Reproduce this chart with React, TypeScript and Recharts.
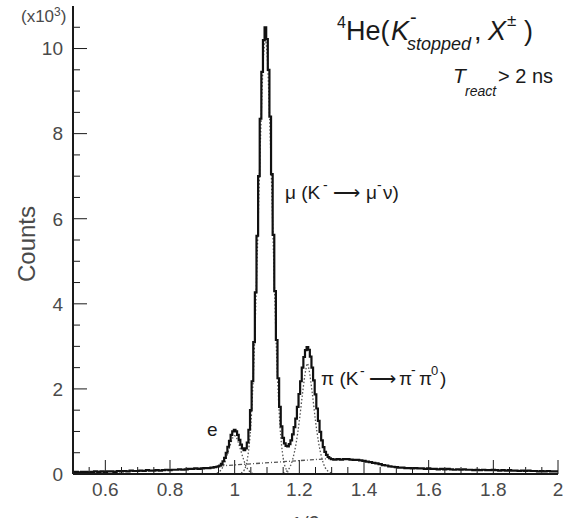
import React from 'react';
import { LineChart, Line, XAxis, YAxis } from 'recharts';

// ---- measured spectrum (counts in units of 10^3) ----
const spectrumX = [
  0.5, 0.51, 0.52, 0.53, 0.54, 0.55, 0.56, 0.57, 0.58, 0.59,
  0.6, 0.61, 0.62, 0.63, 0.64, 0.65, 0.66, 0.67, 0.68, 0.69,
  0.7, 0.71, 0.72, 0.73, 0.74, 0.75, 0.76, 0.77, 0.78, 0.79,
  0.8, 0.81, 0.82, 0.83, 0.84, 0.85, 0.86, 0.87, 0.88, 0.89,
  0.9, 0.91, 0.92, 0.93,
  0.94, 0.945, 0.95, 0.955, 0.96, 0.965, 0.97, 0.975, 0.98, 0.985, 0.99, 0.995,
  1.0, 1.005, 1.01, 1.015, 1.02, 1.025, 1.03, 1.035, 1.04, 1.045,
  1.05, 1.055, 1.06, 1.065, 1.07, 1.075, 1.08, 1.085, 1.09, 1.095,
  1.1, 1.105, 1.11, 1.115, 1.12, 1.125, 1.13, 1.135, 1.14, 1.145,
  1.15, 1.155, 1.16, 1.165, 1.17, 1.175, 1.18, 1.185, 1.19, 1.195,
  1.2, 1.205, 1.21, 1.215, 1.22, 1.225, 1.23, 1.235, 1.24, 1.245,
  1.25, 1.255, 1.26, 1.265, 1.27, 1.275, 1.28, 1.285, 1.29, 1.295,
  1.3, 1.31, 1.32, 1.33, 1.34, 1.35, 1.36, 1.37, 1.38, 1.39,
  1.4, 1.41, 1.42, 1.43, 1.44, 1.45, 1.46, 1.47, 1.48, 1.49,
  1.5, 1.51, 1.52, 1.53, 1.54, 1.55, 1.56, 1.57, 1.58, 1.59,
  1.6, 1.61, 1.62, 1.63, 1.64, 1.65, 1.66, 1.67, 1.68, 1.69,
  1.7, 1.71, 1.72, 1.73, 1.74, 1.75, 1.76, 1.77, 1.78, 1.79,
  1.8, 1.81, 1.82, 1.83, 1.84, 1.85, 1.86, 1.87, 1.88, 1.89,
  1.9, 1.91, 1.92, 1.93, 1.94, 1.95, 1.96, 1.97, 1.98, 1.99, 2.0,
];
const spectrumCounts = [
  0.04, 0.05, 0.04, 0.05, 0.05, 0.04, 0.05, 0.06, 0.05, 0.06,
  0.05, 0.06, 0.06, 0.05, 0.07, 0.06, 0.07, 0.06, 0.08, 0.07,
  0.07, 0.08, 0.07, 0.09, 0.08, 0.08, 0.09, 0.08, 0.09, 0.1,
  0.09, 0.1, 0.1, 0.11, 0.1, 0.11, 0.12, 0.12, 0.13, 0.12,
  0.13, 0.14, 0.14, 0.15,
  0.16, 0.17, 0.18, 0.2, 0.24, 0.3, 0.38, 0.5, 0.64, 0.78, 0.92, 1.0,
  1.04, 1.0, 0.92, 0.8, 0.69, 0.6, 0.56, 0.6, 0.74, 1.04,
  1.5, 2.18, 3.1, 4.27, 5.6, 7.0, 8.35, 9.45, 10.2, 10.5,
  10.22, 9.5, 8.4, 7.05, 5.62, 4.3, 3.15, 2.25, 1.58, 1.12,
  0.85, 0.72, 0.66, 0.65, 0.7, 0.79, 0.93, 1.1, 1.3, 1.58,
  1.88, 2.18, 2.5, 2.75, 2.91, 2.98, 2.92, 2.76, 2.5, 2.2,
  1.87, 1.54, 1.25, 0.99, 0.79, 0.63, 0.52, 0.45, 0.4, 0.37,
  0.35, 0.34, 0.35, 0.34, 0.35, 0.35, 0.34, 0.33, 0.33, 0.32,
  0.31, 0.29, 0.28, 0.26, 0.25, 0.23, 0.21, 0.2, 0.18, 0.17,
  0.16, 0.15, 0.15, 0.14, 0.14, 0.13, 0.14, 0.13, 0.13, 0.12,
  0.13, 0.12, 0.12, 0.11, 0.12, 0.11, 0.12, 0.11, 0.1, 0.11,
  0.1, 0.11, 0.1, 0.1, 0.09, 0.1, 0.09, 0.1, 0.09, 0.09,
  0.1, 0.09, 0.08, 0.09, 0.08, 0.09, 0.08, 0.08, 0.07, 0.08,
  0.07, 0.08, 0.07, 0.07, 0.06, 0.07, 0.06, 0.07, 0.06, 0.06, 0.06,
];

// ---- fitted components (dotted) ----
const electronX = [0.945, 0.955, 0.965, 0.975, 0.985, 0.995, 1.0, 1.005, 1.015, 1.025, 1.035, 1.045, 1.055];
const electronY = [0.02, 0.07, 0.19, 0.4, 0.65, 0.86, 0.9, 0.86, 0.65, 0.4, 0.19, 0.07, 0.02];
const muonX = [1.02, 1.03, 1.04, 1.05, 1.06, 1.07, 1.08, 1.09, 1.095, 1.1, 1.11, 1.12, 1.13, 1.14, 1.15, 1.16, 1.17];
const muonY = [0.02, 0.1, 0.38, 1.15, 2.75, 5.2, 7.9, 9.9, 10.2, 9.9, 7.9, 5.2, 2.75, 1.15, 0.38, 0.1, 0.02];
const pionX = [1.15, 1.16, 1.17, 1.18, 1.19, 1.2, 1.21, 1.22, 1.225, 1.23, 1.24, 1.25, 1.26, 1.27, 1.28, 1.29, 1.3];
const pionY = [0.02, 0.06, 0.15, 0.36, 0.72, 1.25, 1.9, 2.45, 2.6, 2.45, 1.9, 1.25, 0.72, 0.36, 0.15, 0.06, 0.02];
const backgroundX = [0.955, 1.29];
const backgroundY = [0.19, 0.36];

// ---- ticks ----
const xLabelTicks = [0.6, 0.8, 1, 1.2, 1.4, 1.6, 1.8, 2];
const xTickPositions = [
  0.55, 0.6, 0.65, 0.7, 0.75, 0.8, 0.85, 0.9, 0.95, 1, 1.05, 1.1, 1.15, 1.2, 1.25,
  1.3, 1.35, 1.4, 1.45, 1.5, 1.55, 1.6, 1.65, 1.7, 1.75, 1.8, 1.85, 1.9, 1.95, 2,
];
const yLabelTicks = [0, 2, 4, 6, 8, 10];
const yTickPositions = [
  0, 0.5, 1, 1.5, 2, 2.5, 3, 3.5, 4, 4.5, 5, 5.5, 6, 6.5, 7, 7.5, 8, 8.5, 9, 9.5, 10, 10.5,
];

const toPoints = (xs: number[], ys: number[]) => xs.map((x, i) => ({ x, y: ys[i] }));
const histogram = toPoints(spectrumX, spectrumCounts);
const electron = toPoints(electronX, electronY);
const muon = toPoints(muonX, muonY);
const pion = toPoints(pionX, pionY);
const background = toPoints(backgroundX, backgroundY);

const near = (v: number, arr: number[]) => arr.some((a) => Math.abs(a - v) < 1e-6);

const FONT = '"Liberation Sans", Arial, Helvetica, sans-serif';
const LABEL = '#4a4a4a';
const INK = '#1a1a1a';
const MAJOR = 14;
const MINOR = 7;

const BottomTick = (props: any) => {
  const { x, y, payload } = props;
  const v = payload.value;
  const axisY = y - 8;
  const major = near(v, xLabelTicks);
  return (
    <g>
      <line x1={x} x2={x} y1={axisY} y2={axisY - (major ? MAJOR : MINOR)} stroke={INK} strokeWidth={1} />
      {major && (
        <text x={x} y={y} dy="0.72em" textAnchor="middle" fill={LABEL} fontSize={19} fontFamily={FONT}>
          {String(v)}
        </text>
      )}
    </g>
  );
};

const TopTick = (props: any) => {
  const { x, y, payload } = props;
  const major = near(payload.value, xLabelTicks);
  return <line x1={x} x2={x} y1={y} y2={y + (major ? MAJOR : MINOR)} stroke={INK} strokeWidth={1} />;
};

const LeftTick = (props: any) => {
  const { x, y, payload } = props;
  const v = payload.value;
  const axisX = x + 10;
  const major = near(v, yLabelTicks);
  return (
    <g>
      <line x1={axisX} x2={axisX + (major ? MAJOR : MINOR)} y1={y} y2={y} stroke={INK} strokeWidth={1} />
      {major && (
        <text x={x} y={y} dy="0.36em" textAnchor="end" fill={LABEL} fontSize={19} fontFamily={FONT}>
          {String(v)}
        </text>
      )}
    </g>
  );
};

const RightTick = (props: any) => {
  const { x, y, payload } = props;
  const major = near(payload.value, yLabelTicks);
  return <line x1={x} x2={x - (major ? MAJOR : MINOR)} y1={y} y2={y} stroke={INK} strokeWidth={1} />;
};

const axisLine = { stroke: INK, strokeWidth: 2 };

export default function App() {
  return (
    <div style={{ position: 'absolute', left: 0, top: 0, width: 570, height: 518, background: '#fff', overflow: 'hidden' }}>
      <LineChart width={570} height={518} margin={{ top: 6, right: 12, bottom: 0, left: 0 }}>
        <XAxis
          xAxisId="b"
          type="number"
          dataKey="x"
          domain={[0.5, 2]}
          allowDataOverflow
          ticks={xTickPositions}
          interval={0}
          tickSize={0}
          tickMargin={8}
          tickLine={false}
          tick={<BottomTick />}
          axisLine={axisLine}
          height={44}
        />
        <XAxis
          xAxisId="t"
          orientation="top"
          type="number"
          dataKey="x"
          domain={[0.5, 2]}
          allowDataOverflow
          ticks={xTickPositions}
          interval={0}
          tickSize={0}
          tickMargin={0}
          tickLine={false}
          tick={<TopTick />}
          axisLine={axisLine}
          height={0}
        />
        <YAxis
          yAxisId="l"
          type="number"
          domain={[0, 11]}
          allowDataOverflow
          ticks={yTickPositions}
          interval={0}
          tickSize={0}
          tickMargin={10}
          tickLine={false}
          tick={<LeftTick />}
          axisLine={axisLine}
          width={73}
        />
        <YAxis
          yAxisId="r"
          orientation="right"
          type="number"
          domain={[0, 11]}
          allowDataOverflow
          ticks={yTickPositions}
          interval={0}
          tickSize={0}
          tickMargin={0}
          tickLine={false}
          tick={<RightTick />}
          axisLine={axisLine}
          width={0}
        />
        <Line xAxisId="b" yAxisId="l" data={background} dataKey="y" type="linear" stroke="#555"
          strokeWidth={1.3} strokeDasharray="4 2 1 2" dot={false} isAnimationActive={false} />
        <Line xAxisId="b" yAxisId="l" data={electron} dataKey="y" type="monotone" stroke="#555"
          strokeWidth={1.3} strokeDasharray="1.5 2" dot={false} isAnimationActive={false} />
        <Line xAxisId="b" yAxisId="l" data={muon} dataKey="y" type="monotone" stroke="#555"
          strokeWidth={1.3} strokeDasharray="1.5 2" dot={false} isAnimationActive={false} />
        <Line xAxisId="b" yAxisId="l" data={pion} dataKey="y" type="monotone" stroke="#555"
          strokeWidth={1.3} strokeDasharray="1.5 2" dot={false} isAnimationActive={false} />
        <Line xAxisId="b" yAxisId="l" data={histogram} dataKey="y" type="step" stroke="#111"
          strokeWidth={2.2} dot={false} isAnimationActive={false} />
      </LineChart>
      <svg
        width={570}
        height={518}
        style={{ position: 'absolute', left: 0, top: 0, pointerEvents: 'none' }}
        fontFamily={FONT}
      >
        <text x={21} y={22} fontSize={17} fill={LABEL}>
          (x10<tspan fontSize={12} dy={-6}>3</tspan><tspan dy={6}>)</tspan>
        </text>
        <text x={35} y={244} fontSize={24} fill={LABEL} textAnchor="middle" transform="rotate(-90 35 244)">
          Counts
        </text>
        <text x={304} y={531} fontSize={21} fill={LABEL} textAnchor="middle" fontStyle="italic">
          1/β
        </text>

        <g fill={INK}>
          <text fontSize={27}>
            <tspan x={337} y={28} fontSize={16}>4</tspan>
            <tspan x={346} y={40}>He(</tspan>
            <tspan x={391} y={40} fontStyle="italic">K</tspan>
            <tspan x={410} y={24} fontSize={20}>-</tspan>
            <tspan x={407} y={50} fontSize={18} fontStyle="italic">stopped</tspan>
            <tspan x={474} y={40}>,</tspan>
            <tspan x={488} y={40} fontStyle="italic">X</tspan>
            <tspan x={507} y={26} fontSize={17}>±</tspan>
            <tspan x={524} y={40}>)</tspan>
          </text>

          <text fontSize={21}>
            <tspan x={453} y={83} fontStyle="italic">T</tspan>
            <tspan x={465} y={96} fontSize={14} fontStyle="italic">react</tspan>
            <tspan x={498} y={83} fontSize={20}>&gt; 2 ns</tspan>
          </text>

          <text fontSize={19}>
            <tspan x={285} y={199}>μ (K</tspan>
            <tspan x={323} y={190} fontSize={14}>-</tspan>
            <tspan x={333} y={199}>⟶</tspan>
            <tspan x={366} y={199}>μ</tspan>
            <tspan x={377} y={190} fontSize={14}>-</tspan>
            <tspan x={383} y={199}>ν)</tspan>
          </text>

          <text fontSize={19}>
            <tspan x={321} y={385}>π (K</tspan>
            <tspan x={360} y={376} fontSize={14}>-</tspan>
            <tspan x={369} y={385}>⟶</tspan>
            <tspan x={399} y={385}>π</tspan>
            <tspan x={411} y={375} fontSize={14}>-</tspan>
            <tspan x={419} y={385}>π</tspan>
            <tspan x={431} y={375} fontSize={13}>0</tspan>
            <tspan x={440} y={385}>)</tspan>
          </text>

          <text x={207} y={436} fontSize={19}>e</text>
        </g>
      </svg>
    </div>
  );
}
